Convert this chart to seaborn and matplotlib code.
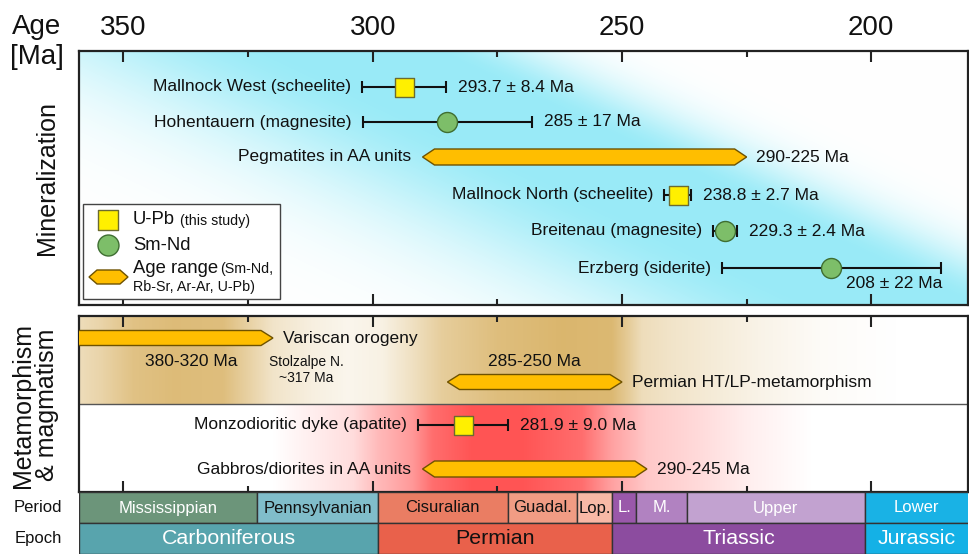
import numpy as np
import pandas as pd
import matplotlib
matplotlib.use("Agg")
import matplotlib.pyplot as plt
from matplotlib.patches import Polygon, Rectangle
from matplotlib.ticker import FixedLocator
import seaborn as sns

# ---------------- data ----------------
# Mineralization ages (Ma) with uncertainties
mineral_names = ["Mallnock West (scheelite)", "Hohentauern (magnesite)",
                 "Mallnock North (scheelite)", "Breitenau (magnesite)",
                 "Erzberg (siderite)"]
mineral_age = [293.7, 285.0, 238.8, 229.3, 208.0]
mineral_err = [8.4, 17.0, 2.7, 2.4, 22.0]
mineral_method = ["U-Pb", "Sm-Nd", "U-Pb", "Sm-Nd", "Sm-Nd"]
mineral_decimals = [1, 0, 1, 1, 0]

# Mineralization age ranges
min_range_names = ["Pegmatites in AA units"]
min_range_old = [290]
min_range_young = [225]

# Metamorphic / magmatic age ranges
meta_names = ["Variscan orogeny", "Permian HT/LP-metamorphism",
              "Gabbros/diorites in AA units"]
meta_old = [380, 285, 290]
meta_young = [320, 250, 245]

# Dated dyke
dyke_names = ["Monzodioritic dyke (apatite)"]
dyke_age = [281.9]
dyke_err = [9.0]
dyke_method = ["U-Pb"]
dyke_decimals = [1]

# Geological time scale (Ma)
period_names = ["Mississippian", "Pennsylvanian", "Cisuralian", "Guadal.", "Lop.",
                "L.", "M.", "Upper", "Lower"]
period_start = [358.9, 323.2, 298.9, 272.95, 259.1, 251.9, 247.2, 237.0, 201.3]
period_end = [323.2, 298.9, 272.95, 259.1, 251.9, 247.2, 237.0, 201.3, 174.1]
epoch_names = ["Carboniferous", "Permian", "Triassic", "Jurassic"]
epoch_start = [358.9, 298.9, 251.9, 201.3]
epoch_end = [298.9, 251.9, 201.3, 174.1]

age_ticks_major = [350, 300, 250, 200]
age_ticks_minor = [325, 275, 225]

# ---------------- styles / layout ----------------
sns.set_theme(style="white")
plt.rcParams["font.family"] = ["Liberation Sans", "DejaVu Sans"]
plt.rcParams["text.color"] = "#111111"

period_colors = ["#6c957a", "#80bdca", "#ea7d63", "#f19c84", "#f8b9a6",
                 "#9a58aa", "#b182c1", "#c2a2d0", "#19b2e5"]
period_text = ["white", "#111111", "#111111", "#111111", "#111111",
               "white", "white", "white", "white"]
epoch_colors = ["#58a4ad", "#e9614b", "#8c4c9f", "#14b1e6"]
epoch_text = ["white", "#111111", "white", "white"]

YELLOW, YELLOW_EDGE = "#fff000", "#6b6b30"
GREEN, GREEN_EDGE = "#7dbe69", "#3f6e32"
HEX_FACE, HEX_EDGE = "#ffbe00", "#6e5200"
INK = "#111111"
FS = 12.5

marker_styles = {
    "U-Pb": dict(marker="s", s=(19 * 0.72) ** 2, face=YELLOW, edge=YELLOW_EDGE),
    "Sm-Nd": dict(marker="o", s=(20 * 0.72) ** 2, face=GREEN, edge=GREEN_EDGE),
}

X0, X1 = 358.9, 180.6          # visible age window
W, H = 970, 554

mineral_rows = [36, 71, 144, 180, 217]
min_range_rows = [106]
meta_rows = [22, 66, 153]
dyke_rows = [109]
divider_row = 88

fig = plt.figure(figsize=(W / 100, H / 100), dpi=100)


def fig_box(x0, y0, x1, y1):
    return [x0 / W, 1 - y1 / H, (x1 - x0) / W, (y1 - y0) / H]


ax1 = fig.add_axes(fig_box(79, 51, 968, 305))
ax2 = fig.add_axes(fig_box(79, 316, 968, 492))
ax3 = fig.add_axes(fig_box(79, 492, 968, 554))


def hexbar(ax, old, young, y, h, tip, transform=None, **kw):
    pts = [(old, y), (old - tip, y - h / 2), (young + tip, y - h / 2),
           (young, y), (young + tip, y + h / 2), (old - tip, y + h / 2)]
    if transform is None:
        transform = ax.transData
    ax.add_patch(Polygon(pts, closed=True, facecolor=HEX_FACE, edgecolor=HEX_EDGE,
                         linewidth=1.0, transform=transform, **kw))


def draw_points(ax, ages, errs, rows, methods):
    ax.errorbar(ages, rows, xerr=errs, fmt="none", ecolor=INK, elinewidth=1.5,
                capsize=4.3, capthick=1.5, zorder=5)
    df = pd.DataFrame({"age": ages, "row": rows, "method": methods})
    for method, st in marker_styles.items():
        sub = df[df["method"] == method]
        if len(sub):
            sns.scatterplot(data=sub, x="age", y="row", marker=st["marker"], s=st["s"],
                            color=st["face"], edgecolor=st["edge"], linewidth=1.0,
                            ax=ax, zorder=6, legend=False)


# ---------------- backgrounds ----------------
ny, nx = 254, 889
yy, xx = np.mgrid[0:ny, 0:nx]
xc = 281 + 539 * yy / ny
u = xx - xc
a = np.where(u > 70, np.exp(-((u - 70) / 110) ** 2),
             np.where(u < -70, np.exp(-((u + 70) / 250) ** 2), 1.0))
cyan = np.array([0.60, 0.92, 0.97])
ax1.imshow(1 - a[..., None] * (1 - cyan), extent=(X0, X1, ny, 0), aspect="auto",
           zorder=0, interpolation="bilinear")

xs = np.linspace(X0, X1, 900)


def strip(keys, vals, color):
    w = np.interp(xs, keys, vals)
    return 1 - w[None, :, None] * (1 - np.array(color))


tan_k = [195, 210, 222, 240, 246, 249, 252, 262, 275, 286, 292, 298, 305, 312,
         320, 325, 330, 340, 348, 355, 358.9]
tan_v = [0, 0.05, 0.15, 0.35, 0.45, 0.7, 0.92, 0.95, 0.85, 0.65, 0.4, 0.18, 0.12,
         0.2, 0.35, 0.6, 0.85, 0.88, 0.8, 0.55, 0.45]
red_k = [212, 225, 235, 245, 252, 258, 270, 280, 288, 292, 299, 304, 312, 320]
red_v = [0, 0.1, 0.22, 0.32, 0.55, 0.85, 1.0, 1.0, 0.85, 0.6, 0.4, 0.2, 0.1, 0]
ax2.imshow(strip(tan_k, tan_v, (0.85, 0.70, 0.40)), extent=(X0, X1, divider_row, 0),
           aspect="auto", zorder=0)
ax2.imshow(strip(red_k, red_v, (1.0, 0.33, 0.33)), extent=(X0, X1, 176, divider_row),
           aspect="auto", zorder=0)
ax2.axhline(divider_row, color="#555555", lw=1.0, zorder=1)

# ---------------- mineralization panel ----------------
draw_points(ax1, mineral_age, mineral_err, mineral_rows, mineral_method)
for name, age, err, dec, row in zip(mineral_names, mineral_age, mineral_err,
                                    mineral_decimals, mineral_rows):
    ax1.annotate(name, xy=(age + err, row), xytext=(-8, 0), textcoords="offset points",
                 ha="right", va="center", fontsize=FS, zorder=7)
    label = f"{age:.{dec}f} ± {err:.{dec}f} Ma"
    if name.startswith("Erzberg"):
        ax1.annotate(label, xy=(age - err, row), xytext=(1, -11), textcoords="offset points",
                     ha="right", va="center", fontsize=FS, zorder=7)
    else:
        ax1.annotate(label, xy=(age - err, row), xytext=(8.5, 0), textcoords="offset points",
                     ha="left", va="center", fontsize=FS, zorder=7)

for name, old, young, row in zip(min_range_names, min_range_old, min_range_young,
                                 min_range_rows):
    hexbar(ax1, old, young, row, 16, 2.4, zorder=5)
    ax1.annotate(name, xy=(old, row), xytext=(-8, 0), textcoords="offset points",
                 ha="right", va="center", fontsize=FS)
    ax1.annotate(f"{old}-{young} Ma", xy=(young, row), xytext=(7, 0),
                 textcoords="offset points", ha="left", va="center", fontsize=FS)

# legend (drawn in axes fraction)
def axf(px, py):
    return ((px - 79) / 889, 1 - (py - 51) / 254)


lx0, ly0 = axf(83, 299)
lx1, ly1 = axf(280, 204)
ax1.add_patch(Rectangle((lx0, ly0), lx1 - lx0, ly1 - ly0, transform=ax1.transAxes,
                        facecolor="white", edgecolor="#444444", lw=1.0, zorder=8))
for (py, st) in [(220, marker_styles["U-Pb"]), (245, marker_styles["Sm-Nd"])]:
    mx, my = axf(108.5, py)
    ax1.scatter([mx], [my], marker=st["marker"], s=st["s"] * 1.1, color=st["face"],
                edgecolor=st["edge"], linewidth=1.0, transform=ax1.transAxes, zorder=9)
hx_l, hy = axf(89, 277)
hx_r, _ = axf(128, 277)
hx_t, _ = axf(97, 277)
tipf = hx_t - hx_l
hh = 14 / 254
ax1.add_patch(Polygon([(hx_l, hy), (hx_l + tipf, hy - hh / 2), (hx_r - tipf, hy - hh / 2),
                       (hx_r, hy), (hx_r - tipf, hy + hh / 2), (hx_l + tipf, hy + hh / 2)],
                      closed=True, facecolor=HEX_FACE, edgecolor=HEX_EDGE, lw=1.0,
                      transform=ax1.transAxes, zorder=9))
for px, py, txt, fs in [(133, 220, "U-Pb", 13.3), (180, 221, "(this study)", 10.3),
                        (133, 245, "Sm-Nd", 13.3), (133, 268, "Age range", 13.3),
                        (220, 269, "(Sm-Nd,", 10.3), (133, 287, "Rb-Sr, Ar-Ar, U-Pb)", 10.3)]:
    tx, ty = axf(px, py)
    ax1.text(tx, ty, txt, transform=ax1.transAxes, ha="left", va="center",
             fontsize=fs, zorder=10)

# ---------------- metamorphism / magmatism panel ----------------
for i, (name, old, young, row) in enumerate(zip(meta_names, meta_old, meta_young, meta_rows)):
    hexbar(ax2, old, young, row, 15 if i < 2 else 16, 2.4, zorder=5)
    if i == 2:
        ax2.annotate(name, xy=(old, row), xytext=(-8, 0), textcoords="offset points",
                     ha="right", va="center", fontsize=FS)
        ax2.annotate(f"{old}-{young} Ma", xy=(young, row), xytext=(7, 0),
                     textcoords="offset points", ha="left", va="center", fontsize=FS)
    else:
        ax2.annotate(name, xy=(young, row), xytext=(7, 0), textcoords="offset points",
                     ha="left", va="center", fontsize=FS)

ax2.text(336.4, 46, f"{meta_old[0]}-{meta_young[0]} Ma", ha="center", va="center",
         fontsize=FS)
ax2.text((meta_old[1] + meta_young[1]) / 2, 45, f"{meta_old[1]}-{meta_young[1]} Ma",
         ha="center", va="center", fontsize=FS)
ax2.text(313.3, 54, "Stolzalpe N.\n~317 Ma", ha="center", va="center", fontsize=10,
         linespacing=1.25)

draw_points(ax2, dyke_age, dyke_err, dyke_rows, dyke_method)
for name, age, err, dec, row in zip(dyke_names, dyke_age, dyke_err, dyke_decimals, dyke_rows):
    ax2.annotate(name, xy=(age + err, row), xytext=(-8, 0), textcoords="offset points",
                 ha="right", va="center", fontsize=FS)
    ax2.annotate(f"{age:.{dec}f} ± {err:.{dec}f} Ma", xy=(age - err, row), xytext=(8.5, 0),
                 textcoords="offset points", ha="left", va="center", fontsize=FS)

# ---------------- axes styling ----------------
ax1.set_ylim(254, 0)
ax2.set_ylim(176, 0)
for ax in (ax1, ax2):
    ax.set_xlim(X0, X1)
    ax.set_xlabel("")
    ax.set_ylabel("")
    ax.set_yticks([])
    ax.xaxis.set_major_locator(FixedLocator(age_ticks_major))
    ax.xaxis.set_minor_locator(FixedLocator(age_ticks_minor))
    ax.tick_params(axis="x", which="both", direction="in", top=True, bottom=True,
                   width=1.5, color="#222222", labelbottom=False, labeltop=False)
    ax.tick_params(axis="x", which="major", length=8)
    ax.tick_params(axis="x", which="minor", length=4.3)
    for sp in ax.spines.values():
        sp.set_linewidth(1.6)
        sp.set_color("#222222")
        sp.set_visible(True)
ax1.tick_params(axis="x", which="major", labeltop=True, labelsize=20, pad=7,
                labelcolor=INK)

# ---------------- time scale ----------------
ax3.set_xlim(X0, X1)
ax3.set_ylim(62, 0)
ax3.axis("off")
ax3.barh([15.5] * len(period_names), [s - e for s, e in zip(period_start, period_end)],
         left=period_end, height=31, color=period_colors, edgecolor="#333333",
         linewidth=1.0, align="center")
ax3.barh([46.5] * len(epoch_names), [s - e for s, e in zip(epoch_start, epoch_end)],
         left=epoch_end, height=31, color=epoch_colors, edgecolor="#333333",
         linewidth=1.0, align="center")
for name, s, e, c in zip(period_names, period_start, period_end, period_text):
    mid = (min(s, X0) + max(e, X1)) / 2
    ax3.text(mid, 16, name, ha="center", va="center", fontsize=12, color=c)
for name, s, e, c in zip(epoch_names, epoch_start, epoch_end, epoch_text):
    mid = (min(s, X0) + max(e, X1)) / 2
    ax3.text(mid, 47, name, ha="center", va="center", fontsize=15.4, color=c)

# ---------------- side labels ----------------
fig.text(37 / W, 1 - 27 / H, "Age", ha="center", va="center", fontsize=20)
fig.text(37 / W, 1 - 57 / H, "[Ma]", ha="center", va="center", fontsize=20)
fig.text(47 / W, 1 - 178 / H, "Mineralization", rotation=90, ha="center", va="center",
         fontsize=18)
fig.text(35 / W, 1 - 405 / H, "Metamorphism\n& magmatism", rotation=90, ha="center",
         va="center", fontsize=18, linespacing=0.95)
fig.text(38 / W, 1 - 508 / H, "Period", ha="center", va="center", fontsize=12)
fig.text(38 / W, 1 - 539 / H, "Epoch", ha="center", va="center", fontsize=12)

fig.savefig("out.png", dpi=100, facecolor="white")
